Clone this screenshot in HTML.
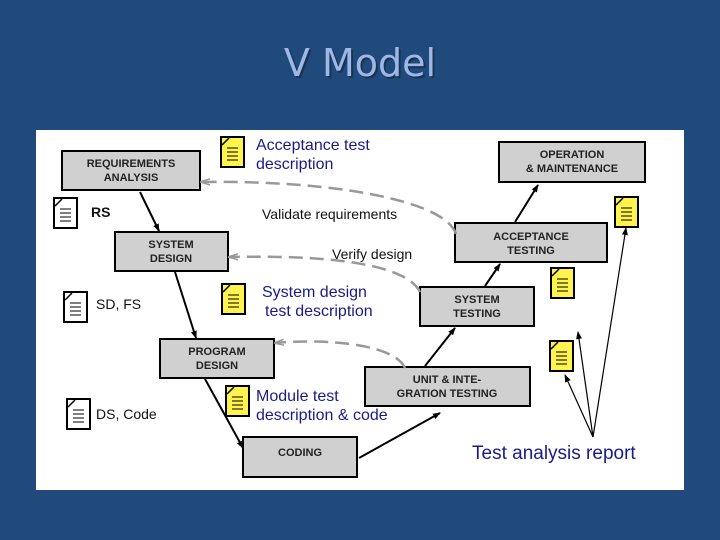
<!DOCTYPE html>
<html><head><style>
html,body{margin:0;padding:0;width:720px;height:540px;overflow:hidden;background:#214a7c;}
</style></head><body>
<svg width="720" height="540" xmlns="http://www.w3.org/2000/svg" font-family="Liberation Sans, sans-serif">
<defs>
<marker id="a" markerWidth="8" markerHeight="8" refX="7" refY="4" orient="auto" markerUnits="userSpaceOnUse"><path d="M0,1 L8,4 L0,7 z" fill="#000"/></marker>
<marker id="g" markerWidth="10" markerHeight="8" refX="9" refY="4" orient="auto" markerUnits="userSpaceOnUse"><path d="M0,1 L10,4 L0,7" fill="none" stroke="#999" stroke-width="1.5"/></marker>
<g id="doc"><rect x="0" y="0" width="23" height="30" stroke="#000" stroke-width="2"/><path d="M1,8 L8,1" stroke="#000" stroke-width="1.5"/><path d="M6,11h11M6,15h11M6,19h11M6,23h11" stroke="#000" stroke-width="1"/></g>
</defs>
<text x="360" y="76" text-anchor="middle" font-family="DejaVu Sans, sans-serif" font-size="38" fill="#1a3355" dx="2" dy="2">V Model</text>
<text x="360" y="76" text-anchor="middle" font-family="DejaVu Sans, sans-serif" font-size="38" fill="#9db8e6">V Model</text>
<rect x="36" y="130" width="648" height="360" fill="#fff"/>
<g fill="#d0d0d0" stroke="#000" stroke-width="2">
<rect x="62" y="151" width="138" height="39"/>
<rect x="115" y="232" width="113" height="39"/>
<rect x="160" y="339" width="114" height="39"/>
<rect x="243" y="437" width="114" height="40"/>
<rect x="365" y="367" width="165" height="39"/>
<rect x="420" y="287" width="114" height="39"/>
<rect x="455" y="223" width="152" height="39"/>
<rect x="499" y="142" width="146" height="40"/>
</g>
<g font-size="11" font-weight="bold" text-anchor="middle" fill="#222">
<text x="131" y="167">REQUIREMENTS</text><text x="131" y="181">ANALYSIS</text>
<text x="171" y="248">SYSTEM</text><text x="171" y="262">DESIGN</text>
<text x="217" y="355">PROGRAM</text><text x="217" y="369">DESIGN</text>
<text x="300" y="456">CODING</text>
<text x="447" y="383">UNIT &amp; INTE-</text><text x="447" y="397">GRATION TESTING</text>
<text x="477" y="303">SYSTEM</text><text x="477" y="317">TESTING</text>
<text x="531" y="240">ACCEPTANCE</text><text x="531" y="254">TESTING</text>
<text x="572" y="158">OPERATION</text><text x="572" y="172">&amp; MAINTENANCE</text>
</g>
<g stroke="#000" stroke-width="2" marker-end="url(#a)">
<line x1="140" y1="192" x2="159" y2="231"/>
<line x1="175" y1="272" x2="196" y2="338"/>
<line x1="205" y1="379" x2="243" y2="448"/>
<line x1="359" y1="458" x2="440" y2="413"/>
<line x1="425" y1="366" x2="455" y2="328"/>
<line x1="485" y1="286" x2="500" y2="264"/>
<line x1="515" y1="222" x2="538" y2="185"/>
</g>
<g stroke="#000" stroke-width="1.2" marker-end="url(#a)">
<line x1="593" y1="437" x2="565" y2="375"/>
<line x1="593" y1="437" x2="578" y2="332"/>
<line x1="593" y1="437" x2="626" y2="228"/>
</g>
<g fill="none" stroke="#999" stroke-width="2.5" stroke-dasharray="14,7">
<path d="M456,234 C445,200 330,180 201,182" marker-end="url(#g)"/>
<path d="M420,292 C405,262 320,255 229,257" marker-end="url(#g)"/>
<path d="M405,368 C395,345 330,338 275,343" marker-end="url(#g)"/>
</g>
<g fill="#fff"><use href="#doc" x="54" y="198"/><use href="#doc" x="64" y="292"/><use href="#doc" x="67" y="399"/></g>
<g fill="#fff44f"><use href="#doc" x="221" y="137"/><use href="#doc" x="222" y="284"/><use href="#doc" x="226" y="386"/><use href="#doc" x="615" y="197"/><use href="#doc" x="551" y="268"/><use href="#doc" x="550" y="341"/></g>
<g font-size="16" fill="#1a1a8c">
<text x="256" y="150">Acceptance test</text><text x="256" y="169">description</text>
<text x="262" y="297">System design</text><text x="265" y="316">test description</text>
<text x="256" y="401">Module test</text><text x="256" y="420">description &amp; code</text>
<text x="472" y="459" font-size="19">Test analysis report</text>
</g>
<g font-size="14" fill="#111">
<text x="262" y="219">Validate requirements</text>
<text x="332" y="259">Verify design</text>
<text x="91" y="217" font-weight="bold">RS</text>
<text x="96" y="309">SD, FS</text>
<text x="96" y="419">DS, Code</text>
</g>
</svg>
</body></html>
